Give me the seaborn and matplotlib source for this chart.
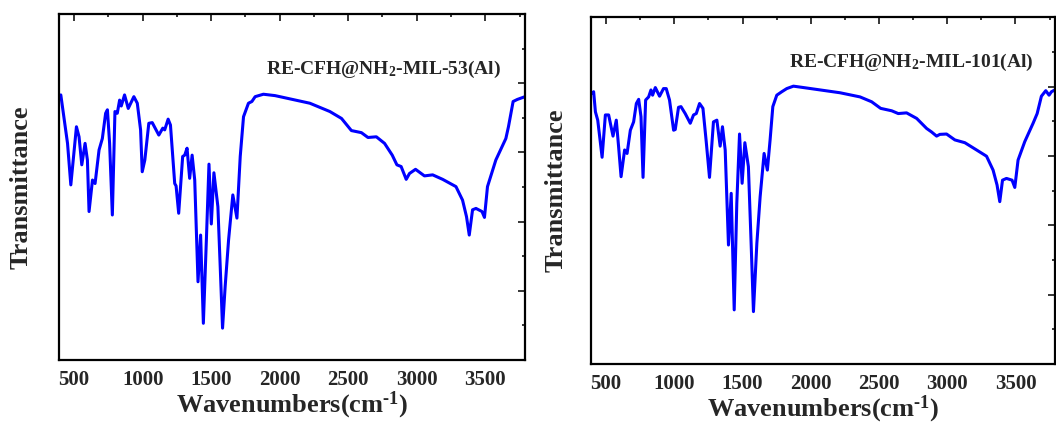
import numpy as np
import pandas as pd
import matplotlib
matplotlib.use('Agg')
import matplotlib.pyplot as plt
import seaborn as sns
from matplotlib.ticker import MultipleLocator

# -- data (wavenumber, transmittance a.u.) --
wn_53 = [403, 452, 476, 517, 536, 556, 580, 597, 609, 634, 653, 682, 706, 730, 743,
         759, 779, 798, 815, 832, 844, 868, 895, 936, 961, 985, 997, 1016, 1045, 1070,
         1118, 1147, 1161, 1186, 1203, 1234, 1244, 1263, 1292, 1307, 1324, 1343, 1361,
         1380, 1404, 1423, 1443, 1465, 1484, 1501, 1520, 1549, 1566, 1583, 1602, 1627,
         1658, 1688, 1712, 1736, 1772, 1797, 1821, 1881, 1966, 2220, 2366, 2451, 2523,
         2596, 2644, 2705, 2765, 2821, 2855, 2886, 2923, 2947, 2991, 3056, 3116, 3189,
         3286, 3334, 3363, 3383, 3407, 3432, 3476, 3494, 3516, 3577, 3650, 3669, 3703,
         3734, 3790]
t_53 = [76.6, 62.6, 50.6, 67.4, 64.5, 56.4, 62.6, 57.8, 42.9, 52.0, 51.0, 60.7, 64.0,
        71.3, 72.3, 62.6, 41.9, 71.8, 71.3, 75.1, 73.4, 76.6, 72.7, 76.1, 74.2, 66.5,
        54.4, 57.8, 68.4, 68.6, 65.0, 67.0, 66.5, 69.6, 67.9, 51.0, 50.3, 42.4, 58.8,
        59.2, 61.2, 52.5, 59.2, 52.0, 22.6, 36.1, 10.6, 34.7, 56.6, 39.3, 54.1, 44.3,
        27.0, 9.2, 21.2, 34.7, 47.7, 41.0, 58.8, 70.3, 74.2, 74.7, 76.1, 76.8, 76.4,
        74.2, 71.8, 69.8, 66.3, 65.7, 64.3, 64.5, 62.6, 59.2, 56.4, 55.9, 52.2, 53.9,
        55.1, 53.2, 53.5, 52.2, 50.1, 46.2, 41.4, 36.1, 43.4, 43.8, 42.9, 41.2, 50.1,
        57.8, 64.0, 67.4, 74.7, 75.3, 76.1]

wn_101 = [398, 409, 422, 439, 471, 495, 519, 551, 575, 592, 610, 636, 654, 678, 702,
          722, 739, 756, 771, 790, 812, 829, 841, 861, 892, 921, 941, 965, 995, 1007,
          1031, 1049, 1080, 1117, 1141, 1161, 1185, 1210, 1234, 1258, 1287, 1312, 1336,
          1353, 1373, 1397, 1417, 1439, 1458, 1478, 1497, 1517, 1543, 1563, 1580, 1605,
          1629, 1658, 1682, 1702, 1722, 1751, 1788, 1824, 1873, 1946, 2214, 2361, 2446,
          2512, 2593, 2641, 2702, 2776, 2849, 2885, 2922, 2946, 2995, 3056, 3129, 3215,
          3288, 3336, 3365, 3385, 3405, 3434, 3475, 3495, 3519, 3568, 3629, 3659, 3690,
          3722, 3746, 3764, 3788]
t_101 = [78.0, 78.5, 72.7, 70.3, 59.6, 71.8, 71.8, 65.7, 70.3, 62.6, 54.0, 61.7, 60.7,
         67.4, 69.8, 75.1, 76.3, 71.3, 53.8, 76.1, 77.0, 79.0, 77.5, 79.7, 77.2, 79.4,
         79.4, 76.1, 67.4, 67.6, 74.0, 74.2, 72.2, 69.4, 71.8, 72.2, 75.1, 73.7, 64.1,
         53.8, 69.8, 70.3, 62.8, 68.4, 61.7, 34.3, 49.2, 15.6, 46.3, 66.3, 52.1, 63.8,
         56.9, 34.8, 15.1, 34.8, 48.2, 60.7, 55.9, 64.6, 74.2, 77.5, 78.5, 79.4, 80.1,
         79.7, 78.2, 77.0, 75.6, 73.7, 73.0, 72.2, 72.4, 70.8, 67.9, 66.9, 65.7, 66.2,
         66.3, 64.6, 63.8, 61.7, 59.9, 55.9, 51.6, 46.8, 53.0, 53.5, 53.0, 50.9, 58.8,
         64.1, 69.4, 72.2, 77.2, 78.8, 77.5, 78.5, 79.0]

titles = [r'RE-CFH@NH$_\mathbf{2}$-MIL-53(Al)', r'RE-CFH@NH$_\mathbf{2}$-MIL-101(Al)']
xticks = [500, 1000, 1500, 2000, 2500, 3000, 3500]

sns.set_style('white')
plt.rcParams['font.family'] = ['Liberation Serif', 'DejaVu Serif']
plt.rcParams['font.weight'] = 'bold'
plt.rcParams['mathtext.fontset'] = 'custom'
plt.rcParams['mathtext.rm'] = 'Liberation Serif:bold'
plt.rcParams['mathtext.bf'] = 'Liberation Serif:bold'
plt.rcParams['mathtext.default'] = 'bf'

fig = plt.figure(figsize=(10.56, 4.23), dpi=100)
ax1 = fig.add_axes([0.0559, 0.149, 0.4413, 0.818])
ax2 = fig.add_axes([0.5597, 0.1395, 0.4394, 0.820])

panels = [(ax1, wn_53, t_53, titles[0], (0.695, 0.84), 12),
          (ax2, wn_101, t_101, titles[1], (0.69, 0.87), 10)]

for ax, wn, t, title, tpos, ypad in panels:
    df = pd.DataFrame({'wn': wn, 't': t})
    sns.lineplot(data=df, x='wn', y='t', ax=ax, color='#0000FF', linewidth=2.2,
                 solid_joinstyle='round')
    ax.set_xlim(390, 3790)
    ax.set_ylim(0, 100)
    ax.set_xticks(xticks)
    ax.xaxis.set_minor_locator(MultipleLocator(250))
    ax.yaxis.set_major_locator(MultipleLocator(20))
    ax.yaxis.set_minor_locator(MultipleLocator(10))
    ax.set_yticklabels([])
    ax.tick_params(which='both', direction='in', top=True, right=True, width=1.3)
    ax.tick_params(which='major', length=5, labelsize=15, pad=7)
    ax.tick_params(which='minor', length=2.5)
    for lab in ax.get_xticklabels():
        lab.set_fontweight('bold')
    for sp in ax.spines.values():
        sp.set_color('black')
        sp.set_linewidth(1.6)
    ax.set_xlabel('Wavenumbers(cm$^{\u2010\\mathbf{1}}$)', fontsize=19, fontweight='bold',
                  labelpad=0)
    ax.set_ylabel('Transmittance', fontsize=19, fontweight='bold', labelpad=ypad)
    ax.text(tpos[0], tpos[1], title, transform=ax.transAxes, ha='center', va='center',
            fontsize=14, fontweight='bold')

plt.savefig('out.png', dpi=100)
